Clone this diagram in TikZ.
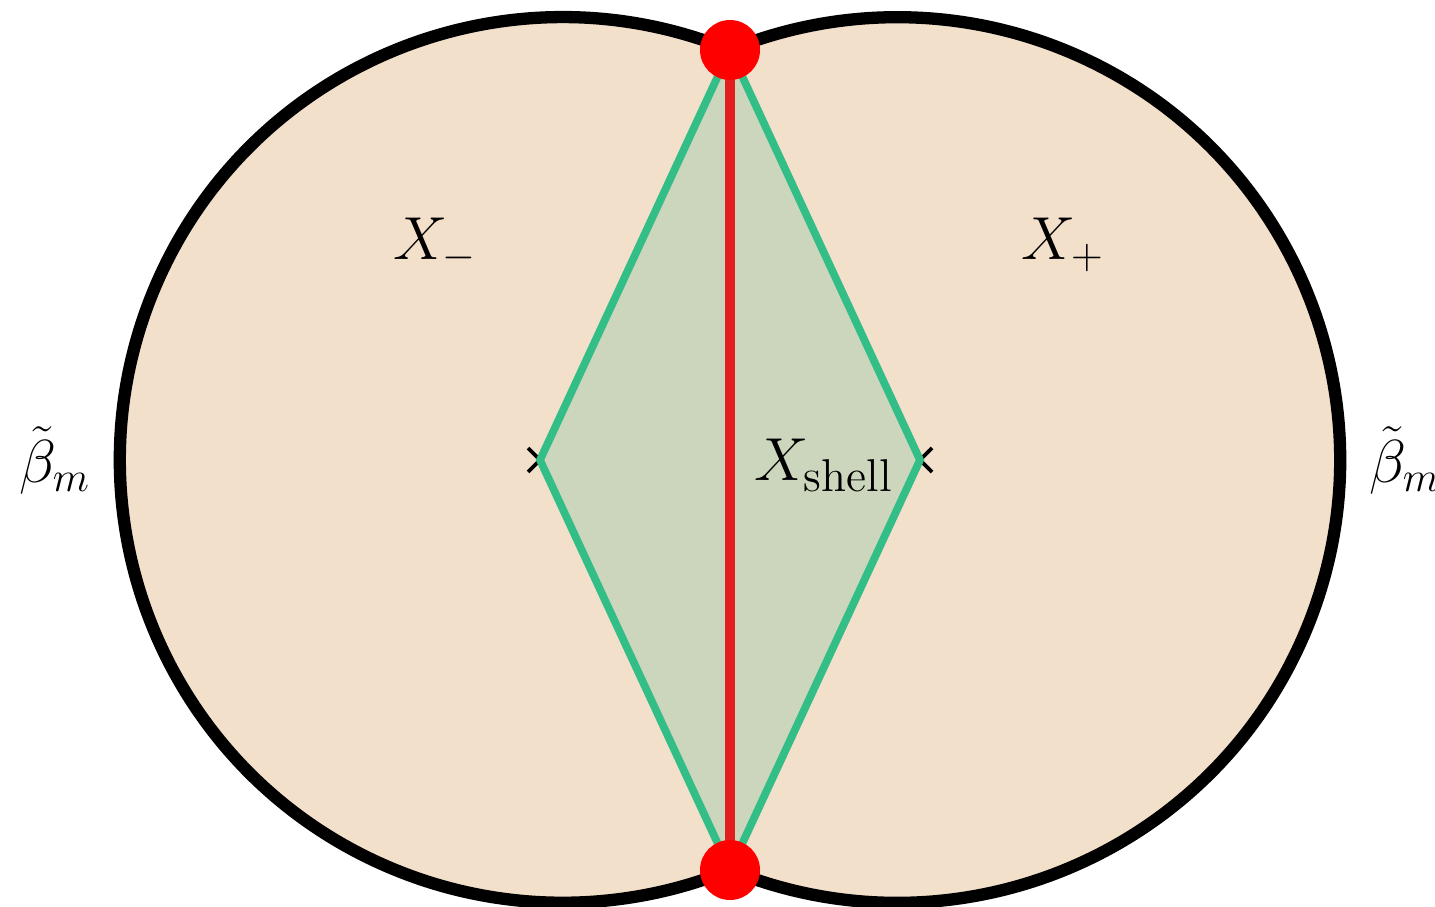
\documentclass[tikz,border=0pt]{standalone}
\usepackage{amsmath,amssymb}
\usepackage{tikz}
\usetikzlibrary{positioning,calc}
\definecolor{sand}{RGB}{242,224,203}
\definecolor{sage}{RGB}{204,214,188}
\definecolor{mint}{RGB}{52,190,135}
\definecolor{shellred}{RGB}{226,30,30}

\begin{document}
\begin{tikzpicture}[x=1cm,y=1cm,
  rim/.style={line width=3.5pt,line join=round},
  wedge/.style={line width=2.2pt,draw=mint,fill=sage,line join=miter},
  tip/.style={circle,fill=red,inner sep=0pt,minimum size=0.6cm},
  lbl/.style={font=\fontsize{18.7}{22}\selectfont}]
\useasboundingbox (0,0) rectangle (14.35,9.06);
% joining points of the two discs, and the vertices of the shell
\coordinate (top) at (7.30,8.56);
\coordinate (bot) at (7.30,0.36);
\coordinate (lv) at (5.40,4.46);
\coordinate (rv) at (9.20,4.46);
% the two discs X_- and X_+, glued along the shell
\filldraw[rim,fill=sand] (top) arc[start angle=67.8,end angle=292.2,radius=4.428]
  arc[start angle=-112.2,end angle=112.2,radius=4.428] -- cycle;
% crosses at the vertices
\foreach \p in {lv,rv} {\draw[line width=1.1pt] ($(\p)+(-0.12,0.12)$) -- ($(\p)+(0.12,-0.12)$) ($(\p)+(-0.12,-0.12)$) -- ($(\p)+(0.12,0.12)$);}
% shell region
\filldraw[wedge] (top) -- (lv) -- (bot) -- (rv) -- cycle;
\draw[line width=3.1pt,shellred] (top) -- (bot);
\node[tip] (ntop) at (top) {};
\node[tip] (nbot) at (bot) {};
% labels
\node[lbl] (xm) at (4.35,6.61) {$X_-$};
\node[lbl] (xp) at (10.63,6.61) {$X_+$};
\node[lbl] (xs) at (8.24,4.41) {$X_{\text{shell}}$};
\node[lbl] (bl) at (0.55,4.46) {$\tilde{\beta}_m$};
\node[lbl] (br) at (14.05,4.46) {$\tilde{\beta}_m$};
\end{tikzpicture}
\end{document}
